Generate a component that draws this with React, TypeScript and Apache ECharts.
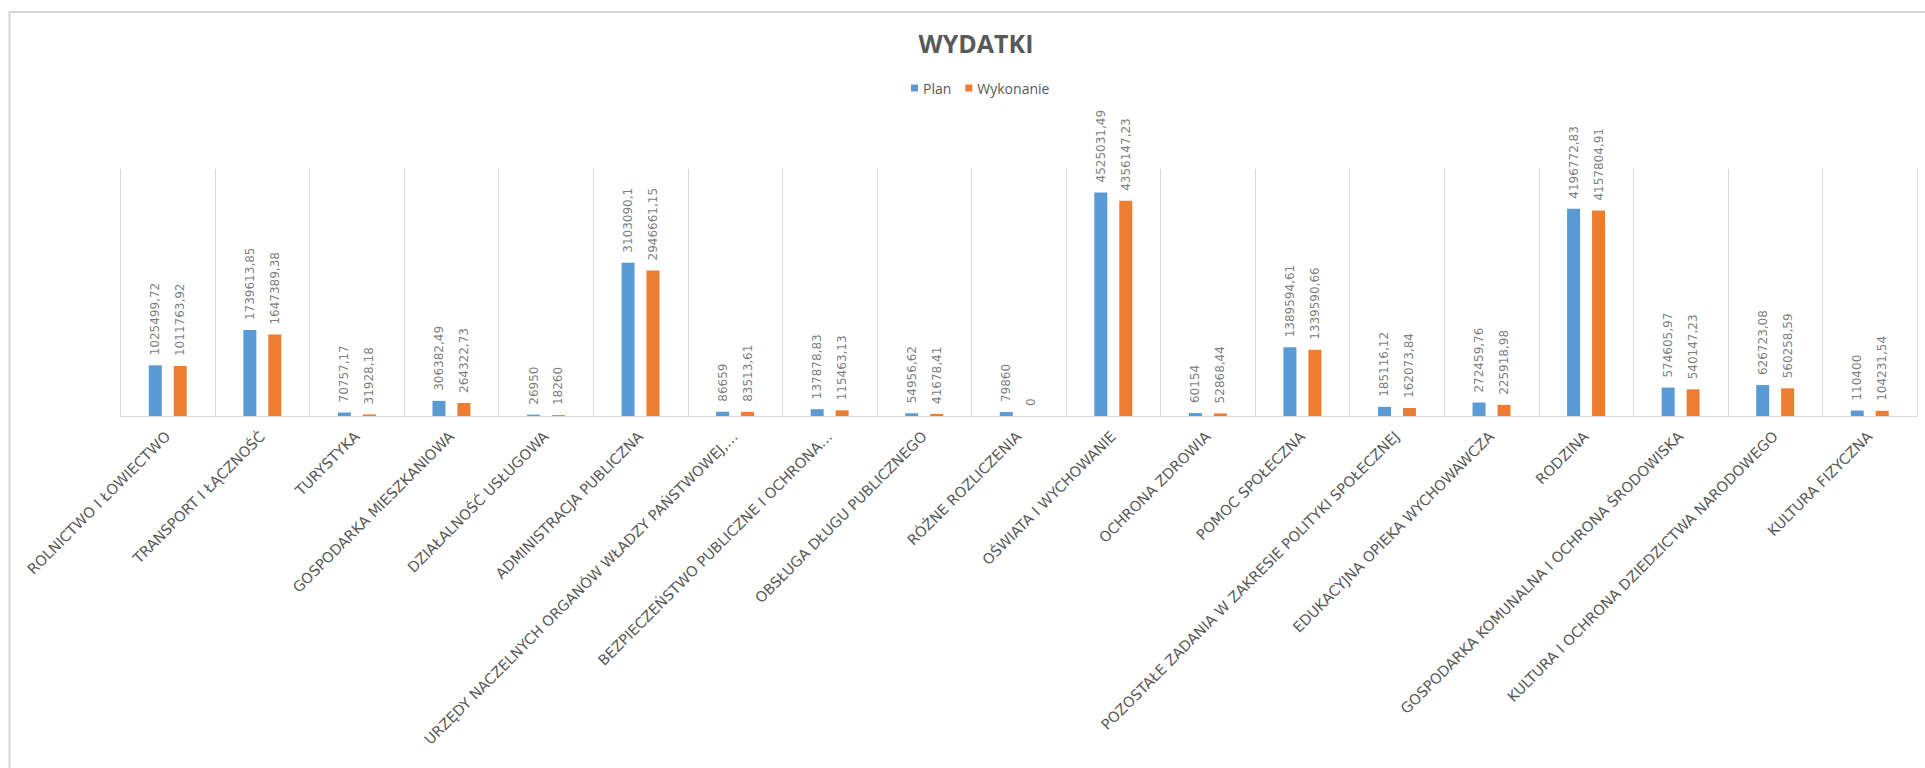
import React, { useEffect, useRef } from "react";
import * as echarts from "echarts";

const title = "WYDATKI";
const seriesNames = ["Plan", "Wykonanie"];
const categories = [
  "ROLNICTWO I ŁOWIECTWO",
  "TRANSPORT I ŁĄCZNOŚĆ",
  "TURYSTYKA",
  "GOSPODARKA MIESZKANIOWA",
  "DZIAŁALNOŚĆ USŁUGOWA",
  "ADMINISTRACJA PUBLICZNA",
  "URZĘDY NACZELNYCH ORGANÓW WŁADZY PAŃSTWOWEJ,…",
  "BEZPIECZEŃSTWO PUBLICZNE I OCHRONA…",
  "OBSŁUGA DŁUGU PUBLICZNEGO",
  "RÓŻNE ROZLICZENIA",
  "OŚWIATA I WYCHOWANIE",
  "OCHRONA ZDROWIA",
  "POMOC SPOŁECZNA",
  "POZOSTAŁE ZADANIA W ZAKRESIE POLITYKI SPOŁECZNEJ",
  "EDUKACYJNA OPIEKA WYCHOWAWCZA",
  "RODZINA",
  "GOSPODARKA KOMUNALNA I OCHRONA ŚRODOWISKA",
  "KULTURA I OCHRONA DZIEDZICTWA NARODOWEGO",
  "KULTURA FIZYCZNA",
];
const planValues = [
  1025499.72, 1739613.85, 70757.17, 306382.49, 26950, 3103090.1, 86659,
  137878.83, 54956.62, 79860, 4525031.49, 60154, 1389594.61, 185116.12,
  272459.76, 4196772.83, 574605.97, 626723.08, 110400,
];
const wykonanieValues = [
  1011763.92, 1647389.38, 31928.18, 264322.73, 18260, 2946661.15, 83513.61,
  115463.13, 41678.41, 0, 4356147.23, 52868.44, 1339590.66, 162073.84,
  225918.98, 4157804.91, 540147.23, 560258.59, 104231.54,
];
const yMin = 0;
const yMax = 5000000;

const fmt = (v: number) => String(v).replace(".", ",");

export default function App() {
  const ref = useRef<HTMLDivElement>(null);
  useEffect(() => {
    if (!ref.current) return;
    const chart = echarts.init(ref.current, null, { renderer: "svg" });
    const labelCfg = {
      show: true,
      position: "top",
      rotate: 90,
      align: "left",
      verticalAlign: "middle",
      distance: 10,
      color: "#7f7f7f",
      fontSize: 12,
      fontFamily: "DejaVu Sans",
      formatter: (p: any) => fmt(p.value),
    };
    chart.setOption({
      animation: false,
      backgroundColor: "#ffffff",
      title: {
        text: title,
        left: 971,
        textAlign: "center",
        top: 25,
        textStyle: {
          color: "#595959",
          fontSize: 25,
          fontWeight: "bold",
          fontFamily: "Open Sans",
        },
      },
      legend: {
        data: seriesNames,
        left: 906,
        top: 76,
        itemWidth: 7,
        itemHeight: 7,
        itemGap: 14,
        icon: "rect",
        textStyle: { color: "#595959", fontSize: 14, fontFamily: "Open Sans" },
      },
      graphic: [
        {
          type: "rect",
          shape: { x: 9.5, y: 12, width: 3000, height: 2000 },
          style: { fill: "none", stroke: "#d6d6d6", lineWidth: 2 },
          silent: true,
        },
      ],
      grid: { left: 120.5, right: 8, top: 169, bottom: 352, containLabel: false },
      xAxis: {
        type: "category",
        data: categories,
        boundaryGap: true,
        axisTick: { show: false },
        axisLine: { show: true, lineStyle: { color: "#d9d9d9", width: 1 } },
        splitLine: { show: true, lineStyle: { color: "#d9d9d9", width: 1 } },
        axisLabel: {
          interval: 0,
          rotate: 45,
          margin: 18,
          color: "#595959",
          fontSize: 14.5,
          fontFamily: "DejaVu Sans",
        },
      },
      yAxis: {
        type: "value",
        min: yMin,
        max: yMax,
        show: false,
        splitLine: { show: false },
      },
      series: [
        {
          name: seriesNames[0],
          type: "bar",
          data: planValues,
          barWidth: 13,
          barGap: "92%",
          itemStyle: { color: "#5b9bd5" },
          label: labelCfg,
        },
        {
          name: seriesNames[1],
          type: "bar",
          data: wykonanieValues,
          barWidth: 13,
          barGap: "92%",
          itemStyle: { color: "#ed7d31" },
          label: labelCfg,
        },
      ],
    });
    return () => chart.dispose();
  }, []);
  return (
    <div
      ref={ref}
      style={{ position: "fixed", left: 0, top: 0, width: 1925, height: 768 }}
    />
  );
}
